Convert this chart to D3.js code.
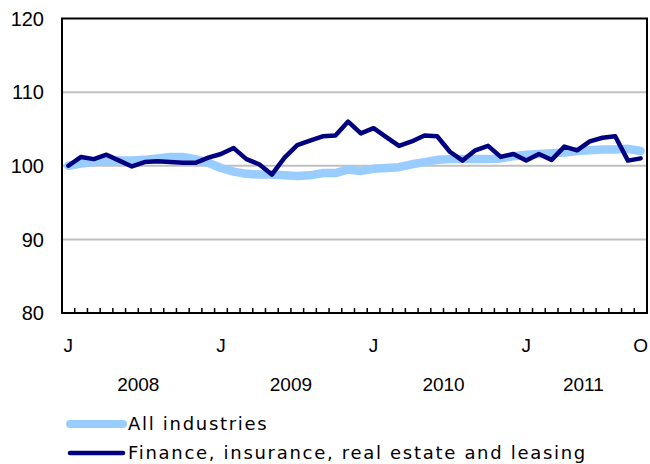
<!DOCTYPE html>
<html>
<head>
    <script src="https://d3js.org/d3.v7.min.js"></script>
    <style>
      body { margin: 0; background: #fff; }
      svg text { fill: #000; }
      .sans { font-family: Arial, "Liberation Sans", Helvetica, sans-serif; }
      .verd { font-family: Verdana, "DejaVu Sans", sans-serif; }
    </style>
</head>
<body>
    <div id="chart"></div>
    <script>
    // monthly index, Jan 2008 = 100 ... Oct 2011
    const allIndustries = [100.0, 100.3, 100.5, 100.6, 100.7, 100.7, 100.8, 101.0, 101.2, 101.2, 100.9, 100.4,
      99.7, 99.2, 98.9, 98.8, 98.8, 98.7, 98.6, 98.7, 99.0, 99.0, 99.5, 99.3,
      99.6, 99.7, 99.8, 100.2, 100.5, 100.8, 100.9, 100.9, 100.9, 100.9, 101.0, 101.3,
      101.5, 101.6, 101.7, 101.8, 102.0, 102.1, 102.2, 102.2, 102.3, 102.0];
    const finance = [100.0, 101.2, 100.9, 101.5, 100.7, 99.9, 100.5, 100.6, 100.5, 100.4, 100.4, 101.1,
      101.6, 102.4, 100.9, 100.2, 98.8, 101.1, 102.8, 103.4, 104.0, 104.1, 106.0, 104.4,
      105.1, 103.9, 102.7, 103.3, 104.1, 104.0, 101.9, 100.7, 102.1, 102.7, 101.2, 101.6,
      100.7, 101.6, 100.8, 102.6, 102.1, 103.3, 103.8, 104.0, 100.7, 101.0];
    const months = d3.range(allIndustries.length);
    const monthLabels = [{i: 0, t: "J"}, {i: 12, t: "J"}, {i: 24, t: "J"}, {i: 36, t: "J"}, {i: 45, t: "O"}];
    const years = [{y: "2008", from: 0, to: 11}, {y: "2009", from: 12, to: 23},
                   {y: "2010", from: 24, to: 35}, {y: "2011", from: 36, to: 45}];
    const yTicks = [80, 90, 100, 110, 120];
    const legendNames = ["All industries", "Finance, insurance, real estate and leasing"];

    const width = 650, height = 464;
    const plot = {left: 62, right: 647, top: 18.5, bottom: 313};

    const svg = d3.select("#chart").append("svg")
      .attr("width", width)
      .attr("height", height);

    const x = d3.scaleBand().domain(months).range([plot.left, plot.right]).padding(0);
    const y = d3.scaleLinear().domain([80, 120]).range([plot.bottom, plot.top]);
    const cx = i => x(i) + x.bandwidth() / 2;

    // gridlines
    svg.selectAll(".grid")
      .data(yTicks.filter(d => d > 80 && d < 120))
      .join("line")
      .attr("class", "grid")
      .attr("x1", plot.left).attr("x2", plot.right)
      .attr("y1", d => y(d)).attr("y2", d => y(d))
      .attr("stroke", "#c0c0c0")
      .attr("stroke-width", 2);

    // y labels
    svg.selectAll(".ylab")
      .data(yTicks)
      .join("text")
      .attr("class", "ylab sans")
      .attr("x", 44)
      .attr("y", d => y(d))
      .attr("dy", "0.36em")
      .attr("text-anchor", "end")
      .style("font-size", "20px")
      .text(d => d);

    // tick marks at category boundaries
    const bounds = months.map(i => x(i)).concat([plot.right]);
    svg.selectAll(".xtick")
      .data(bounds)
      .join("line")
      .attr("class", "xtick")
      .attr("x1", d => d).attr("x2", d => d)
      .attr("y1", plot.bottom).attr("y2", plot.bottom - 5)
      .attr("stroke", "#000")
      .attr("stroke-width", 1.5);

    const line = d3.line()
      .x((d, i) => cx(i))
      .y(d => y(d));

    svg.append("path")
      .datum(allIndustries)
      .attr("fill", "none")
      .attr("stroke", "#99ccff")
      .attr("stroke-width", 8.5)
      .attr("stroke-linejoin", "round")
      .attr("stroke-linecap", "round")
      .attr("d", line);

    svg.append("path")
      .datum(finance)
      .attr("fill", "none")
      .attr("stroke", "#000080")
      .attr("stroke-width", 4.5)
      .attr("stroke-linejoin", "round")
      .attr("stroke-linecap", "round")
      .attr("d", line);

    // frame
    svg.append("rect")
      .attr("x", plot.left).attr("y", plot.top)
      .attr("width", plot.right - plot.left)
      .attr("height", plot.bottom - plot.top)
      .attr("fill", "none")
      .attr("stroke", "#000")
      .attr("stroke-width", 2);

    // month labels
    svg.selectAll(".mlab")
      .data(monthLabels)
      .join("text")
      .attr("class", "mlab sans")
      .attr("x", d => cx(d.i))
      .attr("y", 345)
      .attr("dy", "0.36em")
      .attr("text-anchor", "middle")
      .style("font-size", "19px")
      .text(d => d.t);

    svg.selectAll(".yrlab")
      .data(years)
      .join("text")
      .attr("class", "yrlab sans")
      .attr("x", d => (x(d.from) + x(d.to) + x.bandwidth()) / 2)
      .attr("y", 384)
      .attr("dy", "0.36em")
      .attr("text-anchor", "middle")
      .style("font-size", "19px")
      .text(d => d.y);

    // legend
    const legend = svg.append("g").attr("class", "legend");
    const legendStyle = [{c: "#99ccff", w: 8}, {c: "#000080", w: 4.5}];
    legend.selectAll("line")
      .data(legendNames)
      .join("line")
      .attr("x1", 70).attr("x2", 123)
      .attr("y1", (d, i) => 424 + i * 29)
      .attr("y2", (d, i) => 424 + i * 29)
      .attr("stroke", (d, i) => legendStyle[i].c)
      .attr("stroke-width", (d, i) => legendStyle[i].w)
      .attr("stroke-linecap", "round");

    legend.selectAll("text")
      .data(legendNames)
      .join("text")
      .attr("class", "verd")
      .attr("x", 128)
      .attr("y", (d, i) => 424 + i * 29)
      .attr("dy", "0.36em")
      .style("font-size", "18px")
      .style("letter-spacing", "1.7px")
      .text(d => d);
    </script>
</body>
</html>
